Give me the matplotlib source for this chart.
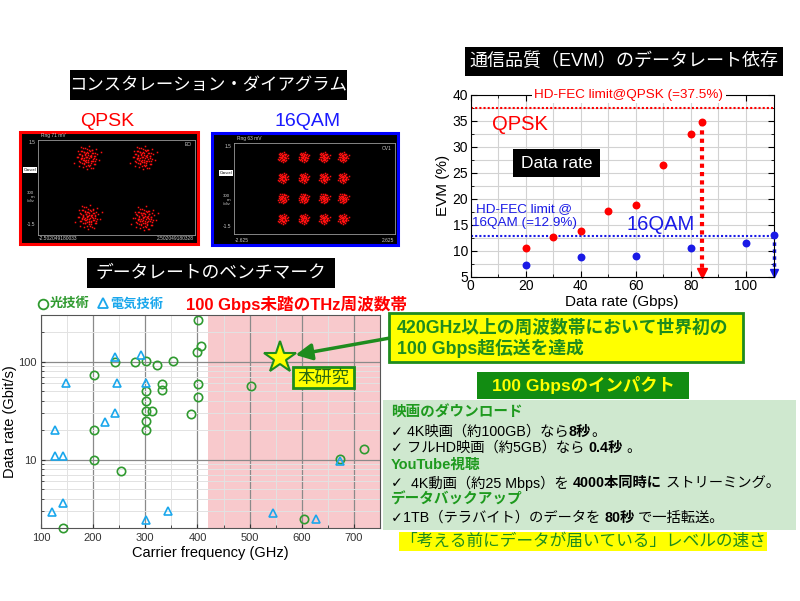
import matplotlib
matplotlib.use("Agg")
import matplotlib.pyplot as plt
from matplotlib.patches import Rectangle
from matplotlib.ticker import MultipleLocator, LogLocator, NullFormatter

plt.rcParams["font.family"] = ["Liberation Sans", "Noto Sans CJK JP", "DejaVu Sans"]

# benchmark: optical (circles) and electrical (triangles) demonstrations
opt_freq = [401, 406, 400, 242, 281, 301, 323, 353, 202, 332, 332, 401, 401, 502,
            301, 301, 301, 313, 301, 301, 387, 202, 202, 253, 674, 720, 604, 143]
opt_rate = [266, 146, 127, 100, 100, 101, 92, 101, 73, 59, 51, 59, 44, 57,
            50, 40, 31, 31, 25, 20, 29, 20, 10, 7.7, 10.2, 12.8, 2.45, 2.0]
elec_freq = [147, 127, 126, 142, 142, 122, 242, 291, 245, 301, 242, 223, 302, 343, 545, 627, 673]
elec_rate = [61, 20, 10.9, 10.9, 3.6, 2.94, 113, 117, 60, 61, 30, 24, 2.4, 2.97, 2.86, 2.5, 9.6]
this_freq, this_rate = 559, 110
thz_band = (420, 750)

# EVM vs data rate
qpsk_rate = [20, 30, 40, 50, 60, 70, 80, 84]
qpsk_evm = [10.6, 12.7, 13.8, 17.6, 18.9, 26.5, 32.5, 34.8]
qam_rate = [20, 40, 60, 80, 100, 110]
qam_evm = [7.3, 8.8, 8.9, 10.5, 11.5, 13.0]
fec_qpsk, fec_qam = 37.5, 12.9

# constellation symbol positions and a hand-picked noise cloud
qpsk_pts = [(-0.93, 0.95), (0.85, 0.95), (-0.9, -0.93), (0.88, -0.97)]
qam_levels_x = [-1.03, -0.35, 0.31, 0.93]
qam_levels_y = [1.04, 0.35, -0.32, -1.0]
cloud = [(0.1, 0.2), (-0.3, 0.5), (0.6, -0.1), (-0.7, -0.4), (0.2, -0.8), (-0.1, -0.2),
         (0.9, 0.3), (-0.5, 0.1), (0.4, 0.7), (-0.9, 0.6), (0.3, 0.1), (-0.2, 0.9),
         (0.7, -0.6), (-0.4, -0.9), (0.0, 0.5), (0.5, 0.4), (-0.6, -0.1), (0.1, -0.4),
         (-1.0, 0.0), (1.1, -0.2), (0.2, 1.1), (-0.3, -0.6), (0.8, 0.8), (-0.8, -0.8),
         (0.4, -0.3), (-0.1, 0.0), (0.0, -1.1), (0.6, 0.1), (-0.5, 0.6), (0.3, -0.5),
         (-0.2, 0.3), (1.3, 0.5), (-1.2, -0.5), (0.5, -1.0), (-0.6, 1.0), (0.15, 0.65),
         (-0.35, -0.25), (0.75, -0.35), (-0.75, 0.35), (0.05, -0.7)]

W, H = 800, 601
GREEN = "#1e8c1e"
PT_GREEN = "#2f9a2f"
LBLUE = "#1aa7ec"
RED = "#ff0000"
BLUE = "#1a1ae6"
YEL = "#ffff00"

fig = plt.figure(figsize=(8, 6.01), dpi=100)


def frac(x0, y0, x1, y1):
    return [x0 / W, 1 - y1 / H, (x1 - x0) / W, (y1 - y0) / H]


bg = fig.add_axes([0, 0, 1, 1])
bg.set_xlim(0, W)
bg.set_ylim(H, 0)
bg.axis("off")

# constellation frames
bg.add_patch(Rectangle((20, 132), 178, 112, facecolor="black", edgecolor=RED, lw=2.2))
bg.add_patch(Rectangle((212, 133), 186, 112, facecolor="black", edgecolor="#0000ff", lw=2.2))


def constellation(rect, xl, centers, spread, doubled):
    c = fig.add_axes(frac(*rect))
    c.set_facecolor("black")
    c.set_xlim(-xl, xl)
    c.set_ylim(-1.5, 1.5)
    c.set_xticks([])
    c.set_yticks([])
    for s in c.spines.values():
        s.set_color("#9a9a9a")
        s.set_linewidth(0.6)
    for cx, cy in centers:
        xs = [cx + spread * dx for dx, dy in cloud]
        ys = [cy + spread * dy for dx, dy in cloud]
        if doubled:
            xs += [cx + 0.75 * spread * dy for dx, dy in cloud]
            ys += [cy - 0.75 * spread * dx for dx, dy in cloud]
        c.plot(xs, ys, "s", ms=1.1, color="#ff1010", mec="none")
    return c


constellation((38, 140, 195, 235), 2.5, qpsk_pts, 0.34, True)
constellation((234, 143, 395, 234), 2.625,
              [(x, y) for y in qam_levels_y for x in qam_levels_x], 0.14, False)

# benchmark chart
ax = fig.add_axes(frac(41, 315, 380, 528))
ax.set_yscale("log")
ax.set_xlim(100, 750)
ax.set_ylim(2, 300)
ax.axvspan(*thz_band, color="#f8c9cc", lw=0, zorder=0.2)
ax.set_axisbelow(True)
ax.xaxis.set_major_locator(MultipleLocator(100))
ax.xaxis.set_minor_locator(MultipleLocator(50))
ax.set_yticks([10, 100], ["10", "100"])
ax.yaxis.set_minor_locator(LogLocator(subs=range(2, 10)))
ax.yaxis.set_minor_formatter(NullFormatter())
ax.grid(which="major", color="#8a8a8a", lw=0.9)
ax.grid(which="minor", color="#e2e2e2", lw=0.7)
ax.tick_params(which="both", direction="in", labelsize=8, colors="#333333")
ax.tick_params(which="major", length=3)
ax.tick_params(which="minor", length=2)
for s in ax.spines.values():
    s.set_color("#555555")
ax.plot(opt_freq, opt_rate, "o", mfc="none", mec=PT_GREEN, ms=6, mew=1.2, clip_on=False)
ax.plot(elec_freq, elec_rate, "^", mfc="none", mec=LBLUE, ms=5.5, mew=1.2, clip_on=False)
ax.plot(this_freq, this_rate, "*", ms=24, mfc=YEL, mec=GREEN, mew=1.5, zorder=5)
ax.set_xlabel("Carrier frequency (GHz)", fontsize=10.5, labelpad=2)
ax.set_ylabel("Data rate (Gbit/s)", fontsize=10.5)
ax.yaxis.set_label_coords(-0.071, 0.5)

# EVM chart
ev = fig.add_axes(frac(470.7, 95, 773.5, 276.7))
ev.set_xlim(0, 110)
ev.set_ylim(5, 40)
ev.xaxis.set_major_locator(MultipleLocator(20))
ev.xaxis.set_minor_locator(MultipleLocator(10))
ev.yaxis.set_major_locator(MultipleLocator(5))
ev.yaxis.set_minor_locator(MultipleLocator(2.5))
ev.set_axisbelow(True)
ev.grid(which="both", color="#d2d2d2", lw=0.8)
ev.tick_params(which="both", direction="in", top=True, right=True, labelsize=10, pad=2)
ev.tick_params(which="major", length=4)
ev.tick_params(which="minor", length=2.5)
ev.axhline(fec_qpsk, color=RED, ls=(0, (1, 1)), lw=1.5)
ev.axhline(fec_qam, color=BLUE, ls=(0, (1, 1)), lw=1.5)
ev.plot([qpsk_rate[-1]] * 2, [qpsk_evm[-1], 6.0], color=RED, ls=(0, (1, 1)), lw=3)
ev.plot(qpsk_rate[-1], 5.7, "v", color=RED, ms=7, clip_on=False)
ev.plot([qam_rate[-1]] * 2, [qam_evm[-1], 6.0], color=BLUE, ls=(0, (1, 1)), lw=2.5, clip_on=False)
ev.plot(qam_rate[-1], 5.7, "v", color=BLUE, ms=6, clip_on=False)
ev.plot(qpsk_rate, qpsk_evm, "o", color=RED, ms=5.7, mec="none", zorder=4)
ev.plot(qam_rate, qam_evm, "o", color=BLUE, ms=5.7, mec="none", zorder=4, clip_on=False)
ev.set_xlabel("Data rate (Gbps)", fontsize=11, labelpad=1)
ev.set_ylabel("EVM (%)", fontsize=11, labelpad=2)

# overlay for annotations
ov = fig.add_axes([0, 0, 1, 1])
ov.set_xlim(0, W)
ov.set_ylim(H, 0)
ov.axis("off")

ax.annotate("", xy=(this_freq, this_rate), xycoords="data",
            xytext=(390, 338), textcoords=ov.transData,
            arrowprops=dict(arrowstyle="-|>,head_length=0.7,head_width=0.35",
                            color=GREEN, lw=2.5, shrinkA=0, shrinkB=11, mutation_scale=14))


def title_box(x0, y0, x1, y1, s, size):
    ov.add_patch(Rectangle((x0, y0), x1 - x0, y1 - y0, facecolor="black", edgecolor="none"))
    ov.text((x0 + x1) / 2, (y0 + y1) / 2, s, color="white", fontsize=size, ha="center", va="center")


title_box(70, 70, 347, 100, "コンスタレーション・ダイアグラム", 12.5)
title_box(87, 258, 335, 288, "データレートのベンチマーク", 12.8)
title_box(465, 47, 783, 76, "通信品質（EVM）のデータレート依存", 13)

ov.text(107.5, 121.5, "QPSK", color=RED, fontsize=14, ha="center", va="center")
ov.text(307.5, 121.5, "16QAM", color="#1a1aff", fontsize=14, ha="center", va="center")

# small scope labels
for (x0, x1, rng, ch, lo, hi) in [(38, 195, "Rng 71 mV", "EO", "-2.502049180033", "2.502049180328"),
                                  (234, 395, "Rng 63 mV", "OV1", "-2.625", "2.625")]:
    top = 139 if x0 == 38 else 142
    ov.text(x0 + 3, top - 1, rng, color="#cccccc", fontsize=3.5, va="bottom")
    ov.text(x1 - 3, top + 6, ch, color="#cccccc", fontsize=3.5, ha="right", va="center")
    ov.text(x0 - 3, top + 4, "1.5", color="#cccccc", fontsize=3.5, ha="right", va="center")
    ov.text(x0 - 8, top + 31, "Cancel", color="black", fontsize=3, ha="center", va="center",
            bbox=dict(facecolor="white", edgecolor="none", pad=0.6))
    ov.text(x0 - 4, top + 58, "300\nm\n/div", color="#cccccc", fontsize=3.2, ha="right",
            va="center", linespacing=1.0)
    ov.text(x0 - 3, top + 85, "-1.5", color="#cccccc", fontsize=3.5, ha="right", va="center")
    ov.text(x0 + 1, top + 99, lo, color="#cccccc", fontsize=3.5, ha="left", va="center")
    ov.text(x1 - 1, top + 99, hi, color="#cccccc", fontsize=3.5, ha="right", va="center")

# benchmark legend and band label
ov.plot(43, 304, "o", mfc="none", mec=PT_GREEN, ms=7, mew=1.3)
ov.text(50, 304, "光技術", color=PT_GREEN, fontsize=9.5, fontweight="bold", va="center")
ov.plot(103, 303, "^", mfc="none", mec=LBLUE, ms=7, mew=1.3)
ov.text(110, 304, "電気技術", color=LBLUE, fontsize=9.5, fontweight="bold", va="center")
ov.text(186, 304, "100 Gbps未踏のTHz周波数帯", color=RED, fontsize=12,
        fontweight="bold", va="center")

ov.add_patch(Rectangle((293, 367), 61, 21, facecolor=YEL, edgecolor=GREEN, lw=2))
ov.text(323.5, 377.5, "本研究", color="#2a6a10", fontsize=12.5, ha="center", va="center")

ov.add_patch(Rectangle((389, 313), 354, 49, facecolor=YEL, edgecolor=GREEN, lw=2))
ov.text(397, 328, "420GHz以上の周波数帯において世界初の", color=GREEN, fontsize=12.8,
        fontweight="bold", va="center")
ov.text(397, 348, "100 Gbps超伝送を達成", color=GREEN, fontsize=12.8,
        fontweight="bold", va="center")

ov.add_patch(Rectangle((477, 372), 212, 27, facecolor="#128c12", edgecolor="none"))
ov.text(583, 385.5, "100 Gbpsのインパクト", color=YEL, fontsize=12.5, fontweight="bold",
        ha="center", va="center")

ov.add_patch(Rectangle((383, 400), 413, 130, facecolor="#cfe8cf", edgecolor="none"))

renderer = fig.canvas.get_renderer()


def rich(x, y, parts, size=10.3):
    # each part: (text, bold); a leading check mark is drawn with DejaVu Sans
    for s, bold in parts:
        kw = dict(fontsize=size, color="black", va="center", ha="left")
        if s.startswith("✓"):
            t = ov.text(x, y, "✓", family="DejaVu Sans", **kw)
            x += t.get_window_extent(renderer=renderer).width
            s = s[1:]
        t = ov.text(x, y, s, fontweight="bold" if bold else "normal", **kw)
        x += t.get_window_extent(renderer=renderer).width


head = "#1e9a1e"
ov.text(391, 413, "映画のダウンロード", color=head, fontsize=10.5, fontweight="bold", va="center")
rich(391, 432, [("✓ 4K映画（約100GB）なら", False), ("8秒", True), ("。", False)])
rich(391, 448, [("✓ フルHD映画（約5GB）なら ", False), ("0.4秒", True), (" 。", False)])
ov.text(391, 465, "YouTube視聴", color=head, fontsize=10.5, fontweight="bold", va="center")
rich(391, 483, [("✓  4K動画（約25 Mbps）を ", False), ("4000本同時に", True),
                (" ストリーミング。", False)])
ov.text(391, 500, "データバックアップ", color=head, fontsize=10.5, fontweight="bold", va="center")
rich(391, 518, [("✓1TB（テラバイト）のデータを ", False), ("80秒", True), (" で一括転送。", False)])

ov.add_patch(Rectangle((399, 532), 368, 19, facecolor=YEL, edgecolor="none"))
ov.text(583, 541.5, "「考える前にデータが届いている」レベルの速さ", color=GREEN, fontsize=12,
        ha="center", va="center")

# EVM annotations
ov.text(629, 95, "HD-FEC limit@QPSK (=37.5%)", color=RED, fontsize=9.7, ha="center",
        va="center", bbox=dict(facecolor="white", edgecolor="none", pad=1.5))
ov.text(492, 125, "QPSK", color=RED, fontsize=14.5, va="center")
ov.add_patch(Rectangle((513, 149), 87, 28, facecolor="black", edgecolor="none"))
ov.text(556.5, 163, "Data rate", color="white", fontsize=12.5, ha="center", va="center")
ov.text(524, 216, "HD-FEC limit @\n16QAM (=12.9%)", color=BLUE, fontsize=9.7,
        ha="center", va="center", linespacing=1.25)
ov.text(626, 225, "16QAM", color=BLUE, fontsize=14.5, va="center")

fig.savefig("out.png", dpi=100)
